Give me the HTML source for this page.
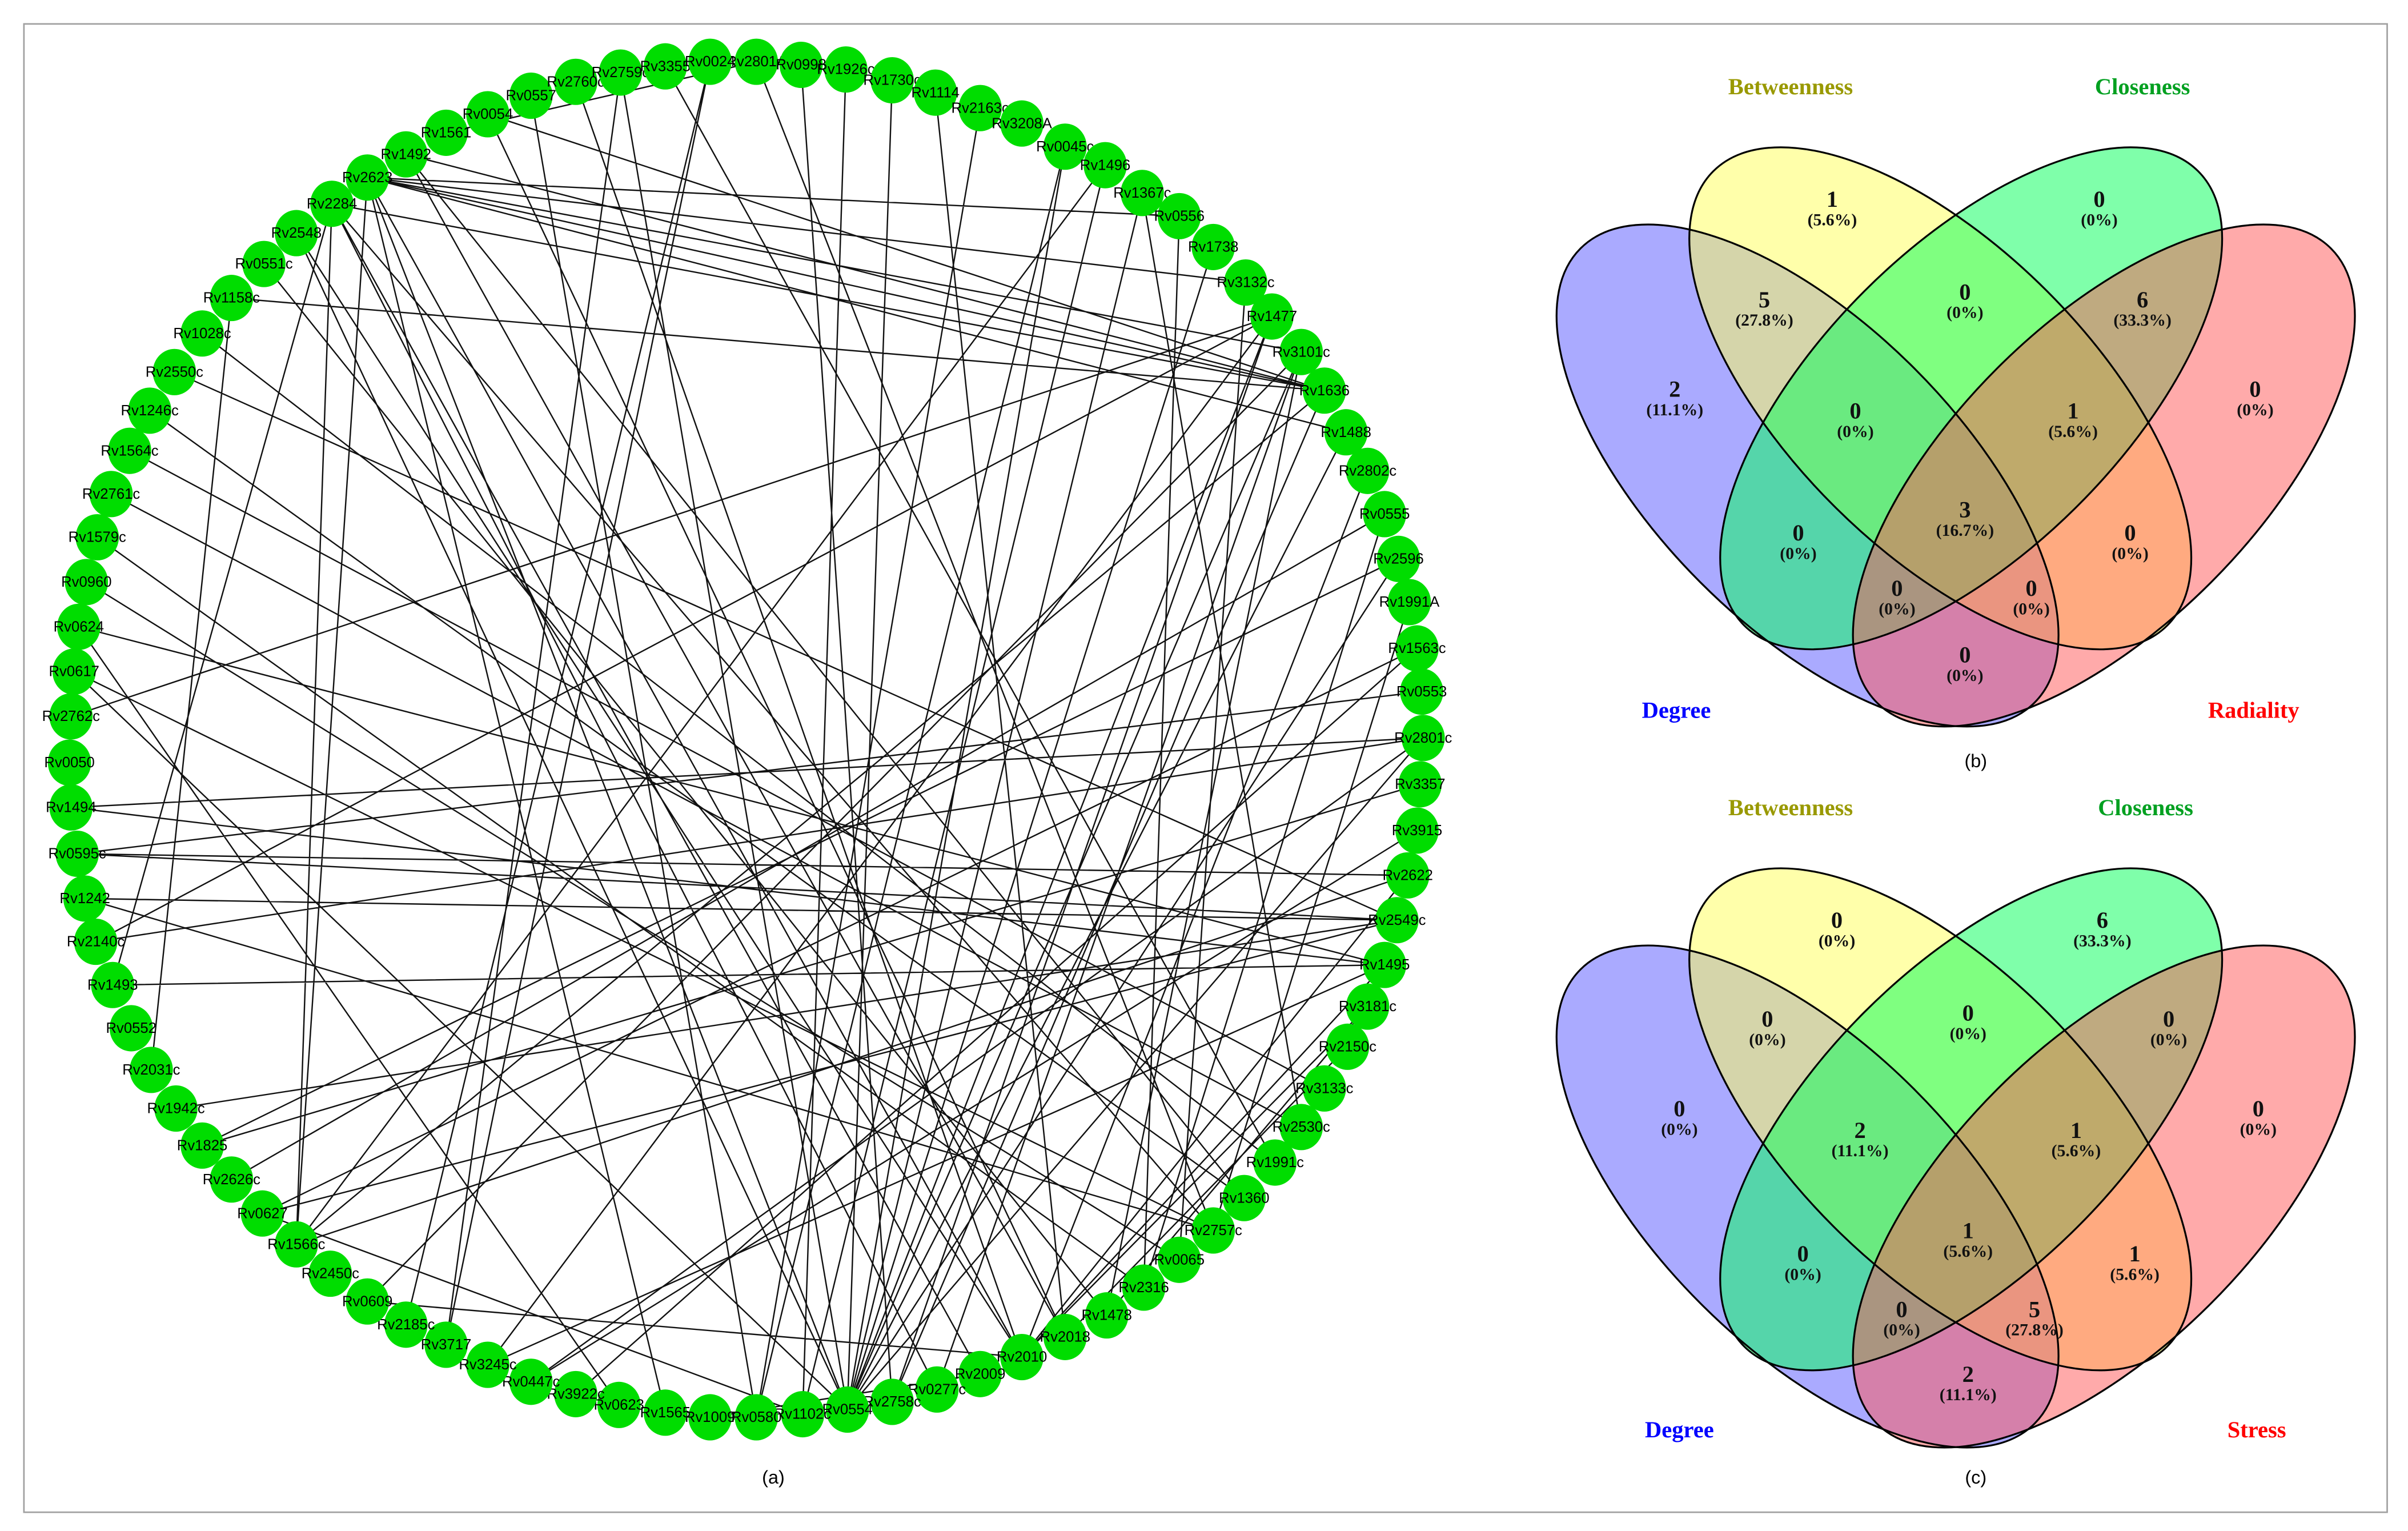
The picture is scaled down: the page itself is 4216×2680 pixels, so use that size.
<!DOCTYPE html>
<html><head><meta charset="utf-8"><style>
html,body{margin:0;padding:0;background:#fff;}
svg{display:block;}
.n{fill:#00dd00;}
.l{font-family:"Liberation Sans",sans-serif;font-size:9.5px;fill:#000;text-anchor:middle;}
.v{font-family:"Liberation Serif",serif;font-weight:bold;text-anchor:middle;fill:#111;}
.a{font-size:15px;}
.p{font-size:11px;}
.t{font-family:"Liberation Serif",serif;font-weight:bold;font-size:15px;text-anchor:middle;}
.c{font-family:"Liberation Sans",sans-serif;font-size:12px;text-anchor:middle;fill:#000;}
</style></head><body>
<svg width="4216" height="2680" viewBox="0 0 1560 991.65" preserveAspectRatio="none" xmlns="http://www.w3.org/2000/svg">
<rect x="0" y="0" width="1560" height="992" fill="#fff"/>
<rect x="15.5" y="15.5" width="1531" height="964" fill="none" stroke="#a0a0a0" stroke-width="1"/>

<path fill="none" stroke="#111" stroke-width="0.9" d="
M238 115L764 140 M238 115L807 183 M238 115L858 253 M238 115L843 228 M238 115L872 280 M238 115L662 879 M238 115L549 913 M238 115L192 806
M215 132L858 253 M215 132L786 797 M215 132L635 890 M263 100L858 253 M263 100L806 776 M289 86L490 40 M316 74L858 253 M316 74L690 866
M344 62L490 918 M373 53L662 879 M402 47L549 913 M431 43L826 753 M460 40L289 871 M490 40L786 797 M578 52L549 913 M606 60L690 866
M690 95L490 918 M716 107L520 916 M740 125L843 730 M764 140L741 834 M786 160L549 913 M807 183L764 816 M824 205L46 464 M824 205L549 913
M824 205L578 908 M843 228L549 913 M843 228L717 852 M843 228L607 900 M858 253L192 806 M858 253L578 908 M858 253L150 193 M872 280L549 913
M886 305L662 879 M897 333L741 834 M906 362L549 913 M913 390L786 797 M918 420L170 786 M921 448L50 553 M922 478L46 523 M922 478L62 610
M922 478L549 913 M920 508L131 742 M918 538L344 895 M912 567L192 806 M912 567L662 879 M905 596L55 582 M905 596L114 718 M905 596L113 241
M905 596L50 553 M905 596L170 786 M897 625L73 638 M897 625L46 523 M897 625L662 879 M897 625L316 884 M897 625L51 406 M886 652L662 879
M886 652L717 852 M873 678L690 866 M858 705L84 292 M843 730L72 320 M826 753L131 216 M806 776L97 266 M786 797L48 435 M764 816L56 377
M741 834L63 348 M717 852L171 171 M662 879L238 843 M662 879L192 151 M635 890L460 918 M549 913L48 435 M549 913L192 151 M520 916L170 786
M401 910L51 406 M373 903L918 420 M344 895L922 478 M289 871L402 47 M263 858L460 40 M150 764L897 333 M131 742L906 362 M98 693L150 193
M73 638L215 132 M62 610L824 205 M55 582L786 797 M50 553L912 567 M192 806L215 132 M192 806L716 107 M238 843L843 228 M316 884L824 205
M490 918L635 70 M431 915L238 115 M549 913L740 125 M549 913L690 95 M578 908L519 42 M607 900L215 132 M690 866L263 100 M520 916L548 45
"/>

<g>
<ellipse class="n" cx="490" cy="40" rx="14" ry="15"/><text class="l" x="490" y="43">Rv2801A</text>
<ellipse class="n" cx="519" cy="42" rx="14" ry="15"/><text class="l" x="519" y="45">Rv0998</text>
<ellipse class="n" cx="548" cy="45" rx="14" ry="15"/><text class="l" x="548" y="48">Rv1926c</text>
<ellipse class="n" cx="578" cy="52" rx="14" ry="15"/><text class="l" x="578" y="55">Rv1730c</text>
<ellipse class="n" cx="606" cy="60" rx="14" ry="15"/><text class="l" x="606" y="63">Rv1114</text>
<ellipse class="n" cx="635" cy="70" rx="14" ry="15"/><text class="l" x="635" y="73">Rv2163c</text>
<ellipse class="n" cx="662" cy="80" rx="14" ry="15"/><text class="l" x="662" y="83">Rv3208A</text>
<ellipse class="n" cx="690" cy="95" rx="14" ry="15"/><text class="l" x="690" y="98">Rv0045c</text>
<ellipse class="n" cx="716" cy="107" rx="14" ry="15"/><text class="l" x="716" y="110">Rv1496</text>
<ellipse class="n" cx="740" cy="125" rx="14" ry="15"/><text class="l" x="740" y="128">Rv1367c</text>
<ellipse class="n" cx="764" cy="140" rx="14" ry="15"/><text class="l" x="764" y="143">Rv0556</text>
<ellipse class="n" cx="786" cy="160" rx="14" ry="15"/><text class="l" x="786" y="163">Rv1738</text>
<ellipse class="n" cx="807" cy="183" rx="14" ry="15"/><text class="l" x="807" y="186">Rv3132c</text>
<ellipse class="n" cx="824" cy="205" rx="14" ry="15"/><text class="l" x="824" y="208">Rv1477</text>
<ellipse class="n" cx="843" cy="228" rx="14" ry="15"/><text class="l" x="843" y="231">Rv3101c</text>
<ellipse class="n" cx="858" cy="253" rx="14" ry="15"/><text class="l" x="858" y="256">Rv1636</text>
<ellipse class="n" cx="872" cy="280" rx="14" ry="15"/><text class="l" x="872" y="283">Rv1488</text>
<ellipse class="n" cx="886" cy="305" rx="14" ry="15"/><text class="l" x="886" y="308">Rv2802c</text>
<ellipse class="n" cx="897" cy="333" rx="14" ry="15"/><text class="l" x="897" y="336">Rv0555</text>
<ellipse class="n" cx="906" cy="362" rx="14" ry="15"/><text class="l" x="906" y="365">Rv2596</text>
<ellipse class="n" cx="913" cy="390" rx="14" ry="15"/><text class="l" x="913" y="393">Rv1991A</text>
<ellipse class="n" cx="918" cy="420" rx="14" ry="15"/><text class="l" x="918" y="423">Rv1563c</text>
<ellipse class="n" cx="921" cy="448" rx="14" ry="15"/><text class="l" x="921" y="451">Rv0553</text>
<ellipse class="n" cx="922" cy="478" rx="14" ry="15"/><text class="l" x="922" y="481">Rv2801c</text>
<ellipse class="n" cx="920" cy="508" rx="14" ry="15"/><text class="l" x="920" y="511">Rv3357</text>
<ellipse class="n" cx="918" cy="538" rx="14" ry="15"/><text class="l" x="918" y="541">Rv3915</text>
<ellipse class="n" cx="912" cy="567" rx="14" ry="15"/><text class="l" x="912" y="570">Rv2622</text>
<ellipse class="n" cx="905" cy="596" rx="14" ry="15"/><text class="l" x="905" y="599">Rv2549c</text>
<ellipse class="n" cx="897" cy="625" rx="14" ry="15"/><text class="l" x="897" y="628">Rv1495</text>
<ellipse class="n" cx="886" cy="652" rx="14" ry="15"/><text class="l" x="886" y="655">Rv3181c</text>
<ellipse class="n" cx="873" cy="678" rx="14" ry="15"/><text class="l" x="873" y="681">Rv2150c</text>
<ellipse class="n" cx="858" cy="705" rx="14" ry="15"/><text class="l" x="858" y="708">Rv3133c</text>
<ellipse class="n" cx="843" cy="730" rx="14" ry="15"/><text class="l" x="843" y="733">Rv2530c</text>
<ellipse class="n" cx="826" cy="753" rx="14" ry="15"/><text class="l" x="826" y="756">Rv1991c</text>
<ellipse class="n" cx="806" cy="776" rx="14" ry="15"/><text class="l" x="806" y="779">Rv1360</text>
<ellipse class="n" cx="786" cy="797" rx="14" ry="15"/><text class="l" x="786" y="800">Rv2757c</text>
<ellipse class="n" cx="764" cy="816" rx="14" ry="15"/><text class="l" x="764" y="819">Rv0065</text>
<ellipse class="n" cx="741" cy="834" rx="14" ry="15"/><text class="l" x="741" y="837">Rv2316</text>
<ellipse class="n" cx="717" cy="852" rx="14" ry="15"/><text class="l" x="717" y="855">Rv1478</text>
<ellipse class="n" cx="690" cy="866" rx="14" ry="15"/><text class="l" x="690" y="869">Rv2018</text>
<ellipse class="n" cx="662" cy="879" rx="14" ry="15"/><text class="l" x="662" y="882">Rv2010</text>
<ellipse class="n" cx="635" cy="890" rx="14" ry="15"/><text class="l" x="635" y="893">Rv2009</text>
<ellipse class="n" cx="607" cy="900" rx="14" ry="15"/><text class="l" x="607" y="903">Rv0277c</text>
<ellipse class="n" cx="578" cy="908" rx="14" ry="15"/><text class="l" x="578" y="911">Rv2758c</text>
<ellipse class="n" cx="549" cy="913" rx="14" ry="15"/><text class="l" x="549" y="916">Rv0554</text>
<ellipse class="n" cx="520" cy="916" rx="14" ry="15"/><text class="l" x="520" y="919">Rv1102c</text>
<ellipse class="n" cx="490" cy="918" rx="14" ry="15"/><text class="l" x="490" y="921">Rv0580</text>
<ellipse class="n" cx="460" cy="918" rx="14" ry="15"/><text class="l" x="460" y="921">Rv1009</text>
<ellipse class="n" cx="431" cy="915" rx="14" ry="15"/><text class="l" x="431" y="918">Rv1565</text>
<ellipse class="n" cx="401" cy="910" rx="14" ry="15"/><text class="l" x="401" y="913">Rv0623</text>
<ellipse class="n" cx="373" cy="903" rx="14" ry="15"/><text class="l" x="373" y="906">Rv3922c</text>
<ellipse class="n" cx="344" cy="895" rx="14" ry="15"/><text class="l" x="344" y="898">Rv0447c</text>
<ellipse class="n" cx="316" cy="884" rx="14" ry="15"/><text class="l" x="316" y="887">Rv3245c</text>
<ellipse class="n" cx="289" cy="871" rx="14" ry="15"/><text class="l" x="289" y="874">Rv3717</text>
<ellipse class="n" cx="263" cy="858" rx="14" ry="15"/><text class="l" x="263" y="861">Rv2185c</text>
<ellipse class="n" cx="238" cy="843" rx="14" ry="15"/><text class="l" x="238" y="846">Rv0609</text>
<ellipse class="n" cx="214" cy="825" rx="14" ry="15"/><text class="l" x="214" y="828">Rv2450c</text>
<ellipse class="n" cx="192" cy="806" rx="14" ry="15"/><text class="l" x="192" y="809">Rv1566c</text>
<ellipse class="n" cx="170" cy="786" rx="14" ry="15"/><text class="l" x="170" y="789">Rv0627</text>
<ellipse class="n" cx="150" cy="764" rx="14" ry="15"/><text class="l" x="150" y="767">Rv2626c</text>
<ellipse class="n" cx="131" cy="742" rx="14" ry="15"/><text class="l" x="131" y="745">Rv1825</text>
<ellipse class="n" cx="114" cy="718" rx="14" ry="15"/><text class="l" x="114" y="721">Rv1942c</text>
<ellipse class="n" cx="98" cy="693" rx="14" ry="15"/><text class="l" x="98" y="696">Rv2031c</text>
<ellipse class="n" cx="85" cy="666" rx="14" ry="15"/><text class="l" x="85" y="669">Rv0552</text>
<ellipse class="n" cx="73" cy="638" rx="14" ry="15"/><text class="l" x="73" y="641">Rv1493</text>
<ellipse class="n" cx="62" cy="610" rx="14" ry="15"/><text class="l" x="62" y="613">Rv2140c</text>
<ellipse class="n" cx="55" cy="582" rx="14" ry="15"/><text class="l" x="55" y="585">Rv1242</text>
<ellipse class="n" cx="50" cy="553" rx="14" ry="15"/><text class="l" x="50" y="556">Rv0595c</text>
<ellipse class="n" cx="46" cy="523" rx="14" ry="15"/><text class="l" x="46" y="526">Rv1494</text>
<ellipse class="n" cx="45" cy="494" rx="14" ry="15"/><text class="l" x="45" y="497">Rv0050</text>
<ellipse class="n" cx="46" cy="464" rx="14" ry="15"/><text class="l" x="46" y="467">Rv2762c</text>
<ellipse class="n" cx="48" cy="435" rx="14" ry="15"/><text class="l" x="48" y="438">Rv0617</text>
<ellipse class="n" cx="51" cy="406" rx="14" ry="15"/><text class="l" x="51" y="409">Rv0624</text>
<ellipse class="n" cx="56" cy="377" rx="14" ry="15"/><text class="l" x="56" y="380">Rv0960</text>
<ellipse class="n" cx="63" cy="348" rx="14" ry="15"/><text class="l" x="63" y="351">Rv1579c</text>
<ellipse class="n" cx="72" cy="320" rx="14" ry="15"/><text class="l" x="72" y="323">Rv2761c</text>
<ellipse class="n" cx="84" cy="292" rx="14" ry="15"/><text class="l" x="84" y="295">Rv1564c</text>
<ellipse class="n" cx="97" cy="266" rx="14" ry="15"/><text class="l" x="97" y="269">Rv1246c</text>
<ellipse class="n" cx="113" cy="241" rx="14" ry="15"/><text class="l" x="113" y="244">Rv2550c</text>
<ellipse class="n" cx="131" cy="216" rx="14" ry="15"/><text class="l" x="131" y="219">Rv1028c</text>
<ellipse class="n" cx="150" cy="193" rx="14" ry="15"/><text class="l" x="150" y="196">Rv1158c</text>
<ellipse class="n" cx="171" cy="171" rx="14" ry="15"/><text class="l" x="171" y="174">Rv0551c</text>
<ellipse class="n" cx="192" cy="151" rx="14" ry="15"/><text class="l" x="192" y="154">Rv2548</text>
<ellipse class="n" cx="215" cy="132" rx="14" ry="15"/><text class="l" x="215" y="135">Rv2284</text>
<ellipse class="n" cx="238" cy="115" rx="14" ry="15"/><text class="l" x="238" y="118">Rv2623</text>
<ellipse class="n" cx="263" cy="100" rx="14" ry="15"/><text class="l" x="263" y="103">Rv1492</text>
<ellipse class="n" cx="289" cy="86" rx="14" ry="15"/><text class="l" x="289" y="89">Rv1561</text>
<ellipse class="n" cx="316" cy="74" rx="14" ry="15"/><text class="l" x="316" y="77">Rv0054</text>
<ellipse class="n" cx="344" cy="62" rx="14" ry="15"/><text class="l" x="344" y="65">Rv0557</text>
<ellipse class="n" cx="373" cy="53" rx="14" ry="15"/><text class="l" x="373" y="56">Rv2760c</text>
<ellipse class="n" cx="402" cy="47" rx="14" ry="15"/><text class="l" x="402" y="50">Rv2759c</text>
<ellipse class="n" cx="431" cy="43" rx="14" ry="15"/><text class="l" x="431" y="46">Rv3355</text>
<ellipse class="n" cx="460" cy="40" rx="14" ry="15"/><text class="l" x="460" y="43">Rv0024</text>
</g>
<text class="c" x="501" y="961">(a)</text>

<!-- Venn (b) -->
<g>
<ellipse cx="1171" cy="308" rx="208" ry="98" transform="rotate(45 1171 308)" fill="#5555ff" fill-opacity="0.5"/>
<ellipse cx="1257" cy="258" rx="208" ry="98" transform="rotate(45 1257 258)" fill="#ffff55" fill-opacity="0.5"/>
<ellipse cx="1277" cy="258" rx="208" ry="98" transform="rotate(-45 1277 258)" fill="#00ff55" fill-opacity="0.5"/>
<ellipse cx="1363" cy="308" rx="208" ry="98" transform="rotate(-45 1363 308)" fill="#ff5555" fill-opacity="0.5"/>
<g fill="none" stroke="#000" stroke-width="1.2">
<ellipse cx="1171" cy="308" rx="208" ry="98" transform="rotate(45 1171 308)"/>
<ellipse cx="1257" cy="258" rx="208" ry="98" transform="rotate(45 1257 258)"/>
<ellipse cx="1277" cy="258" rx="208" ry="98" transform="rotate(-45 1277 258)"/>
<ellipse cx="1363" cy="308" rx="208" ry="98" transform="rotate(-45 1363 308)"/>
</g>
<text class="t" x="1160" y="61" fill="#999900">Betweenness</text>
<text class="t" x="1388" y="61" fill="#00a020">Closeness</text>
<text class="t" x="1086" y="465" fill="#0000ff">Degree</text>
<text class="t" x="1460" y="465" fill="#ff0000">Radiality</text>
<g class="v">
<text class="a" x="1187" y="134">1</text><text class="p" x="1187" y="146">(5.6%)</text>
<text class="a" x="1360" y="134">0</text><text class="p" x="1360" y="146">(0%)</text>
<text class="a" x="1143" y="199">5</text><text class="p" x="1143" y="211">(27.8%)</text>
<text class="a" x="1273" y="194">0</text><text class="p" x="1273" y="206">(0%)</text>
<text class="a" x="1388" y="199">6</text><text class="p" x="1388" y="211">(33.3%)</text>
<text class="a" x="1085" y="257">2</text><text class="p" x="1085" y="269">(11.1%)</text>
<text class="a" x="1202" y="271">0</text><text class="p" x="1202" y="283">(0%)</text>
<text class="a" x="1343" y="271">1</text><text class="p" x="1343" y="283">(5.6%)</text>
<text class="a" x="1461" y="257">0</text><text class="p" x="1461" y="269">(0%)</text>
<text class="a" x="1273" y="335">3</text><text class="p" x="1273" y="347">(16.7%)</text>
<text class="a" x="1165" y="350">0</text><text class="p" x="1165" y="362">(0%)</text>
<text class="a" x="1380" y="350">0</text><text class="p" x="1380" y="362">(0%)</text>
<text class="a" x="1229" y="386">0</text><text class="p" x="1229" y="398">(0%)</text>
<text class="a" x="1316" y="386">0</text><text class="p" x="1316" y="398">(0%)</text>
<text class="a" x="1273" y="429">0</text><text class="p" x="1273" y="441">(0%)</text>
</g>
<text class="c" x="1280" y="497">(b)</text>
</g>

<!-- Venn (c) -->
<g transform="translate(0 467)">
<ellipse cx="1171" cy="308" rx="208" ry="98" transform="rotate(45 1171 308)" fill="#5555ff" fill-opacity="0.5"/>
<ellipse cx="1257" cy="258" rx="208" ry="98" transform="rotate(45 1257 258)" fill="#ffff55" fill-opacity="0.5"/>
<ellipse cx="1277" cy="258" rx="208" ry="98" transform="rotate(-45 1277 258)" fill="#00ff55" fill-opacity="0.5"/>
<ellipse cx="1363" cy="308" rx="208" ry="98" transform="rotate(-45 1363 308)" fill="#ff5555" fill-opacity="0.5"/>
<g fill="none" stroke="#000" stroke-width="1.2">
<ellipse cx="1171" cy="308" rx="208" ry="98" transform="rotate(45 1171 308)"/>
<ellipse cx="1257" cy="258" rx="208" ry="98" transform="rotate(45 1257 258)"/>
<ellipse cx="1277" cy="258" rx="208" ry="98" transform="rotate(-45 1277 258)"/>
<ellipse cx="1363" cy="308" rx="208" ry="98" transform="rotate(-45 1363 308)"/>
</g>
<text class="t" x="1160" y="61" fill="#999900">Betweenness</text>
<text class="t" x="1390" y="61" fill="#00a020">Closeness</text>
<text class="t" x="1088" y="464" fill="#0000ff">Degree</text>
<text class="t" x="1462" y="464" fill="#ff0000">Stress</text>
<g class="v">
<text class="a" x="1190" y="134">0</text><text class="p" x="1190" y="146">(0%)</text>
<text class="a" x="1362" y="134">6</text><text class="p" x="1362" y="146">(33.3%)</text>
<text class="a" x="1145" y="198">0</text><text class="p" x="1145" y="210">(0%)</text>
<text class="a" x="1275" y="194">0</text><text class="p" x="1275" y="206">(0%)</text>
<text class="a" x="1405" y="198">0</text><text class="p" x="1405" y="210">(0%)</text>
<text class="a" x="1088" y="256">0</text><text class="p" x="1088" y="268">(0%)</text>
<text class="a" x="1205" y="270">2</text><text class="p" x="1205" y="282">(11.1%)</text>
<text class="a" x="1345" y="270">1</text><text class="p" x="1345" y="282">(5.6%)</text>
<text class="a" x="1463" y="256">0</text><text class="p" x="1463" y="268">(0%)</text>
<text class="a" x="1275" y="335">1</text><text class="p" x="1275" y="347">(5.6%)</text>
<text class="a" x="1168" y="350">0</text><text class="p" x="1168" y="362">(0%)</text>
<text class="a" x="1383" y="350">1</text><text class="p" x="1383" y="362">(5.6%)</text>
<text class="a" x="1232" y="386">0</text><text class="p" x="1232" y="398">(0%)</text>
<text class="a" x="1318" y="386">5</text><text class="p" x="1318" y="398">(27.8%)</text>
<text class="a" x="1275" y="428">2</text><text class="p" x="1275" y="440">(11.1%)</text>
</g>
<text class="c" x="1280" y="494">(c)</text>
</g>
</svg>
</body></html>
